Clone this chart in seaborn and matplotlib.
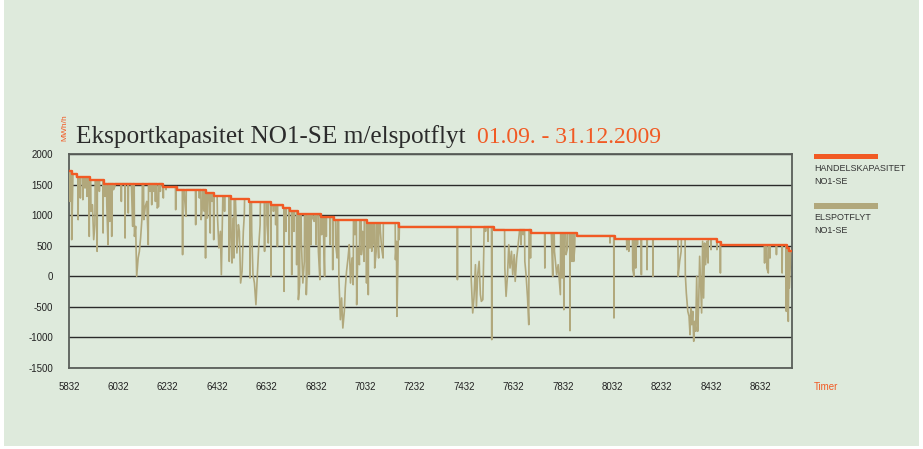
import numpy as np
import pandas as pd
import seaborn as sns
import matplotlib.pyplot as plt
from matplotlib.patches import Rectangle

# handelskapasitet NO1-SE: step start (hour of year) and level (MWh/h)
cap_hours = [5832, 5843, 5863, 5917, 5973, 6211, 6271, 6385, 6419, 6487,
             6562, 6649, 6698, 6725, 6759, 6854, 6905, 7037, 7167, 7552,
             7705, 7890, 8042, 8455, 8471, 8739, 8749]
cap_mw = [1716, 1672, 1618, 1569, 1514, 1460, 1416, 1362, 1312, 1263,
          1209, 1160, 1116, 1062, 1013, 964, 915, 866, 811, 762,
          708, 664, 609, 560, 511, 462, 408]
last_hour = 8760

# elspotflyt: hours where the flow fell below the capacity
dip_hours = [5836, 5843, 5847, 5869, 5878, 5888, 5897, 5905, 5914, 5921,
             5927, 5932, 5937, 5946, 5955, 5970, 5978, 5985, 5990, 5997,
             6005, 6012, 6018, 6044, 6059, 6072, 6085, 6090, 6097, 6102,
             6106, 6112, 6117, 6122, 6128, 6135, 6141, 6147, 6153, 6160,
             6167, 6175, 6182, 6189, 6195, 6202, 6214, 6225,
             6264, 6292, 6300, 6306, 6345, 6360, 6367, 6373, 6380, 6385,
             6392, 6399, 6404, 6411, 6418, 6433, 6439, 6445, 6449, 6454,
             6462, 6481, 6488, 6492, 6496, 6500, 6507, 6512, 6518, 6522,
             6527, 6533, 6538, 6542, 6565, 6572, 6577, 6583, 6589, 6595,
             6600, 6606, 6624, 6634, 6639, 6650, 6660,
             6669, 6676, 6703, 6711, 6723, 6734, 6743, 6754, 6761, 6766,
             6773, 6779, 6785, 6793, 6798, 6805, 6812, 6819, 6825, 6833,
             6842, 6848, 6855, 6862, 6867, 6874, 6889, 6900, 6912, 6918,
             6925, 6931, 6936, 6941, 6947, 6951, 6956, 6962, 6967, 6972,
             6978, 6983, 6990, 6997, 7002, 7008, 7016, 7021, 7027, 7037,
             7044, 7051, 7058, 7063, 7070, 7076, 7083,
             7086, 7093, 7098, 7104, 7154, 7158, 7160, 7164, 7169, 7405,
             7461, 7467, 7472, 7478, 7482, 7487, 7493, 7498, 7502,
             7508, 7512, 7519, 7529, 7544, 7597, 7602, 7608, 7613, 7618,
             7624, 7629, 7635, 7639, 7645, 7651, 7656, 7663, 7671, 7678,
             7683, 7689, 7694, 7701, 7759, 7786, 7791, 7798, 7802, 7807,
             7813, 7818, 7822, 7829, 7836, 7845, 7851, 7861, 7869, 7876,
             7880,
             8023, 8039, 8091, 8099, 8115, 8120, 8127, 8134, 8150, 8173,
             8197, 8299, 8305, 8311, 8328, 8332, 8338, 8343, 8347,
             8350, 8354, 8358, 8362, 8366, 8370, 8374, 8378, 8382, 8386,
             8390, 8394, 8398, 8402, 8406, 8410, 8415, 8420, 8432, 8456,
             8470, 8649, 8658, 8664, 8671, 8697, 8720, 8737, 8741, 8745,
             8749, 8753]
dip_mw = [1225, 599, 1389, 926, 1280, 1253, 1443, 1307, 653, 1062,
          1171, 599, 844, 408, 1389, 708, 1307, 1171, 517, 898,
          653, 1416, 1471, 1225, 626, 1035, 1443, 817, 653, 817,
          0, 299, 408, 626, 980, 926, 1144, 1225, 517, 1389,
          1171, 1389, 1225, 1117, 1144, 1389, 1280, 1416,
          1089, 354, 1280, 980, 844, 1280, 926, 1171, 1062, 299,
          953, 1307, 708, 1225, 599, 1008, 463, 735, 26, 1117,
          1062, 244, 653, 217, 953, 299, 1144, 381, 844, 735,
          -110, 81, 735, 1008, -28, 735, 26, -110, -464, 26,
          463, 844, 408, 844, 544, 0, 1062,
          844, 490, -246, 735, 517, 26, 735, 190, -382, -137,
          572, -110, 244, -300, 299, 26, 517, 953, 898, 517,
          408, -55, 681, 844, 0, 653, 517, 108, 517, 299,
          -28, -710, -355, -846, -573, -192, 81, 299, 517, -110,
          299, -137, 681, -464, 463, 190, 354, 735, 244, -110,
          -300, 463, 408, 544, 135, 408, 572,
          299, 735, 463, 299, 272, 572, -655, 190, 599, -55,
          -55, -600, -355, 190, -491, 26, 244, -300, -410,
          -382, 463, 735, 572, -1036, 135, -328, 26, 517, 135,
          408, 26, 354, -83, 299, 517, 735, 517, 681, 244,
          26, -355, -791, 299, 135, 626, 0, 408, 244, 26,
          190, -83, -300, -28, -546, 354, 463, -889, 244, 244,
          463,
          544, -682, 435, 408, 108, 0, 135, 517, 26, 108,
          0, 0, 244, 408, 26, -273, -573, -655, -955,
          -519, -791, -573, -1063, -737, -900, 0, -900, -464, 327,
          -137, -600, 572, -355, 544, 190, 572, 217, 435, 435,
          54, 217, 135, 54, 299, 354, 54, -573, 190, -737,
          -192, 190]

y_ticks = [-1500, -1000, -500, 0, 500, 1000, 1500, 2000]
x_ticks = [5832, 6032, 6232, 6432, 6632, 6832, 7032, 7232, 7432, 7632,
           7832, 8032, 8232, 8432, 8632]

BG = '#deeadc'
ORANGE = '#f15a24'
TAN = '#b1a87c'


def cap_at(h):
    i = np.searchsorted(cap_hours, h, side='right') - 1
    return cap_mw[max(i, 0)]


def flow_points():
    pts = {cap_hours[0]: cap_mw[0], last_hour: cap_mw[-1]}
    # flow sits on the capacity line except at the dips
    for h in cap_hours[1:]:
        pts[h - 1] = cap_at(h - 1)
        pts[h] = cap_at(h)
    n = len(dip_hours)
    for i, h in enumerate(dip_hours):
        before = h - dip_hours[i - 1] if i > 0 else 99
        after = dip_hours[i + 1] - h if i < n - 1 else 99
        if before > 6:
            pts.setdefault(h - 1, cap_at(h - 1))
        if after > 6:
            pts.setdefault(h + 1, cap_at(h + 1))
    for h, v in zip(dip_hours, dip_mw):
        pts[h] = v
    hs = sorted(pts)
    return pd.DataFrame({'time': hs, 'mw': [pts[h] for h in hs]})


def main():
    sns.set_style('white')
    plt.rcParams['font.family'] = ['Liberation Sans', 'DejaVu Sans']
    plt.rcParams['axes.unicode_minus'] = False

    W, H = 923, 449
    fig = plt.figure(figsize=(W / 100, H / 100), dpi=100, facecolor='white')
    fig.add_artist(Rectangle((4 / W, 3 / H), 915 / W, 446 / H,
                             transform=fig.transFigure, facecolor=BG,
                             edgecolor='none', zorder=-10))

    ax = fig.add_axes([69 / W, 1 - 368 / H, 723 / W, 214 / H])
    ax.set_facecolor(BG)

    df_flow = flow_points()
    df_cap = pd.DataFrame({'time': cap_hours + [last_hour],
                           'mw': cap_mw + [cap_mw[-1]]})

    sns.lineplot(x='time', y='mw', data=df_flow, ax=ax, color=TAN,
                 lw=1.2, estimator=None, zorder=3)
    sns.lineplot(x='time', y='mw', data=df_cap, ax=ax, color=ORANGE,
                 lw=1.7, estimator=None, drawstyle='steps-post', zorder=4)

    ax.set_xlim(5832, 8760)
    ax.set_ylim(-1500, 2000)
    ax.set_yticks(y_ticks)
    ax.set_xticks(x_ticks)
    ax.set_xticklabels([str(t) for t in x_ticks])
    ax.set_xlabel('')
    ax.set_ylabel('')
    ax.tick_params(axis='y', length=0, pad=11.5, labelsize=7, labelcolor='#222222')
    ax.tick_params(axis='x', length=0, pad=10, labelsize=7, labelcolor='#222222')
    ax.yaxis.grid(True, color='#2a2a2a', lw=1.0)
    ax.xaxis.grid(False)
    ax.set_axisbelow(True)
    for s in ax.spines.values():
        s.set_color('#5a5f5a')
        s.set_linewidth(1.3)
        s.set_visible(True)

    # titles
    fig.text(76 / W, 1 - 143 / H, 'Eksportkapasitet NO1-SE m/elspotflyt',
             family=['Liberation Serif', 'DejaVu Serif'], size=18.2,
             color='#2b2b2b', va='baseline', ha='left')
    fig.text(477 / W, 1 - 143 / H, '01.09. - 31.12.2009',
             family=['Liberation Serif', 'DejaVu Serif'], size=17,
             color=ORANGE, va='baseline', ha='left')
    fig.text(65 / W, 1 - 128 / H, 'MWh/h', rotation=90, size=6,
             color=ORANGE, ha='center', va='center')
    fig.text(814 / W, 1 - 387 / H, 'Timer', size=7, color=ORANGE,
             ha='left', va='center')

    # legend
    fig.add_artist(Rectangle((814 / W, 1 - 159 / H), 64 / W, 5 / H,
                             transform=fig.transFigure, facecolor=ORANGE,
                             edgecolor='none'))
    fig.text(814 / W, 1 - 164 / H, 'HANDELSKAPASITET\nNO1-SE', size=6.5,
             color='#333333', ha='left', va='top', linespacing=1.55)
    fig.add_artist(Rectangle((814 / W, 1 - 209 / H), 64 / W, 6 / H,
                             transform=fig.transFigure, facecolor=TAN,
                             edgecolor='none'))
    fig.text(814 / W, 1 - 213 / H, 'ELSPOTFLYT\nNO1-SE', size=6.5,
             color='#333333', ha='left', va='top', linespacing=1.55)

    plt.savefig('out.png', dpi=100, facecolor=fig.get_facecolor())
    plt.close()


if __name__ == '__main__':
    main()
